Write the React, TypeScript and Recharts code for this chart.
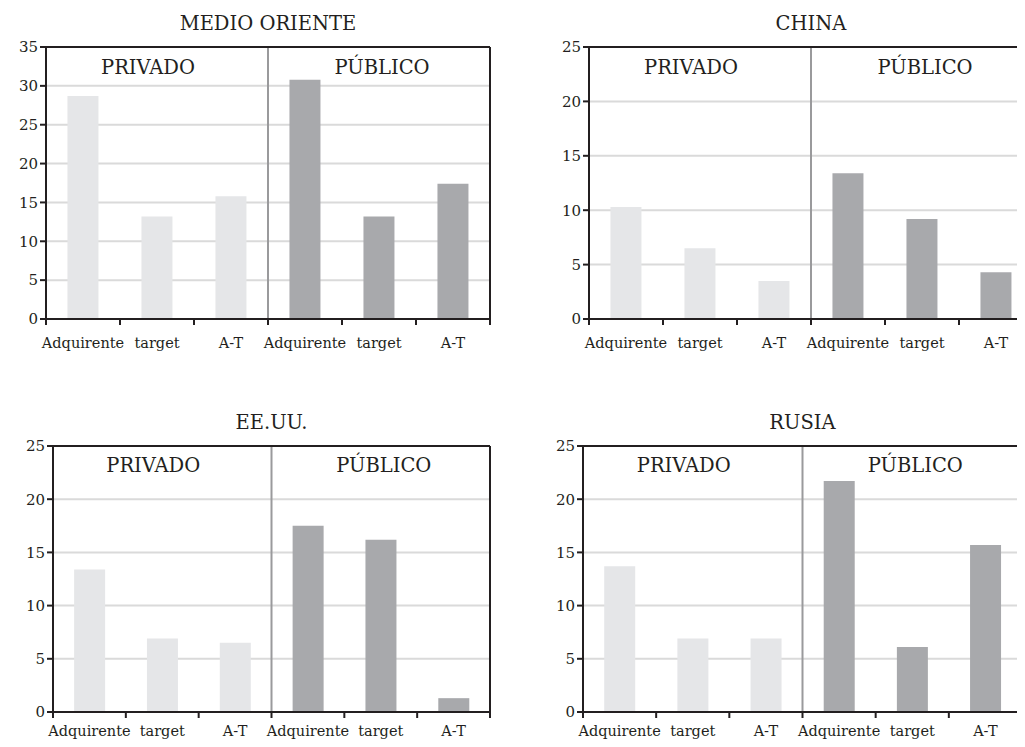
import {
  BarChart,
  Bar,
  Cell,
  XAxis,
  YAxis,
  CartesianGrid,
  ReferenceLine,
  ReferenceArea,
} from "recharts";

const categories = ["Adquirente", "target", "A-T"];
const groups = ["PRIVADO", "PÚBLICO"];

const medioOrientePrivado = [28.7, 13.2, 15.8];
const medioOrientePublico = [30.8, 13.2, 17.4];
const chinaPrivado = [10.3, 6.5, 3.5];
const chinaPublico = [13.4, 9.2, 4.3];
const eeuuPrivado = [13.4, 6.9, 6.5];
const eeuuPublico = [17.5, 16.2, 1.3];
const rusiaPrivado = [13.7, 6.9, 6.9];
const rusiaPublico = [21.7, 6.1, 15.7];

const ticks35 = [0, 5, 10, 15, 20, 25, 30, 35];
const ticks25 = [0, 5, 10, 15, 20, 25];

const FONT = "'DejaVu Serif', serif";
const INK = "#231f20";
const LIGHT = "#e5e6e8";
const DARK = "#a8a9ac";
const GRID = "#dadada";
const SEP = "#9a9a9c";

function buildRows(privado: number[], publico: number[]) {
  return [
    ...privado.map((v, i) => ({ id: `p${i}`, group: 0, value: v })),
    ...publico.map((v, i) => ({ id: `q${i}`, group: 1, value: v })),
  ];
}

// category tick: label at band centre, tick marks on the band edges
function makeTick(band: number, count: number, labelDy: number) {
  return (props: any) => {
    const { x, y, index } = props;
    return (
      <g>
        <line x1={x - band / 2} x2={x - band / 2} y1={y} y2={y + 6} stroke={INK} strokeWidth={2} />
        {index === count - 1 && (
          <line x1={x + band / 2} x2={x + band / 2} y1={y} y2={y + 6} stroke={INK} strokeWidth={2} />
        )}
        <text x={x} y={y + labelDy} textAnchor="middle" fill={INK} fontSize={14.5} fontFamily={FONT}>
          {categories[index % categories.length]}
        </text>
      </g>
    );
  };
}

type PanelProps = {
  title: string;
  privado: number[];
  publico: number[];
  yTicks: number[];
  left: number;
  top: number;
  width: number;
  height: number;
  yWidth: number;
  plotTop: number;
  plotWidth: number;
  xHeight: number;
  labelOffset: number;
  labelDy: number;
};

function Panel(p: PanelProps) {
  const rows = buildRows(p.privado, p.publico);
  const yMax = p.yTicks[p.yTicks.length - 1];
  const rightMargin = p.width - p.yWidth - p.plotWidth;
  const tick = makeTick(p.plotWidth / rows.length, rows.length, p.labelDy);
  return (
    <div style={{ position: "absolute", left: p.left, top: p.top, width: p.width, height: p.height }}>
      <div
        style={{
          position: "absolute",
          left: p.yWidth,
          width: p.plotWidth,
          top: p.plotTop - 33,
          textAlign: "center",
          fontFamily: FONT,
          fontSize: 19.5,
          lineHeight: "20px",
          color: INK,
        }}
      >
        {p.title}
      </div>
      <BarChart
        width={p.width}
        height={p.height}
        data={rows}
        margin={{ top: p.plotTop, right: rightMargin, left: 0, bottom: 0 }}
        barCategoryGap="29%"
        style={{ overflow: "visible" }}
      >
        <CartesianGrid vertical={false} stroke={GRID} strokeWidth={2} />
        <XAxis
          dataKey="id"
          interval={0}
          tickSize={0}
          tickMargin={0}
          tickLine={false}
          axisLine={{ stroke: INK, strokeWidth: 2 }}
          tick={tick}
          height={p.xHeight}
        />
        <YAxis
          domain={[0, yMax]}
          ticks={p.yTicks}
          interval={0}
          width={p.yWidth}
          axisLine={{ stroke: INK, strokeWidth: 2 }}
          tickLine={{ stroke: INK, strokeWidth: 2 }}
          tick={{ fill: INK, fontSize: 15, fontFamily: FONT }}
        />
        <ReferenceArea
          x1="p0"
          x2="p2"
          ifOverflow="visible"
          fillOpacity={0}
          strokeOpacity={0}
          label={{ value: groups[0], position: "insideTop", offset: p.labelOffset, dx: -9, fill: INK, fontSize: 19.5, fontFamily: FONT }}
        />
        <ReferenceArea
          x1="q0"
          x2="q2"
          ifOverflow="visible"
          fillOpacity={0}
          strokeOpacity={0}
          label={{ value: groups[1], position: "insideTop", offset: p.labelOffset, dx: 3, fill: INK, fontSize: 19.5, fontFamily: FONT }}
        />
        <Bar dataKey="value" isAnimationActive={false}>
          {rows.map((r) => (
            <Cell key={r.id} fill={r.group === 0 ? LIGHT : DARK} />
          ))}
        </Bar>
        <ReferenceLine x="q0" position="start" ifOverflow="visible" stroke={SEP} strokeWidth={2} />
        <ReferenceLine y={yMax} ifOverflow="visible" stroke={INK} strokeWidth={2} />
        <ReferenceLine x="q2" position="end" ifOverflow="visible" stroke={INK} strokeWidth={2} />
      </BarChart>
    </div>
  );
}

export default function App() {
  return (
    <div style={{ position: "relative", width: 1025, height: 747, margin: -8, overflow: "hidden", background: "#fff" }}>
      <Panel
        title="MEDIO ORIENTE"
        privado={medioOrientePrivado}
        publico={medioOrientePublico}
        yTicks={ticks35}
        left={0}
        top={0}
        width={512}
        height={370}
        yWidth={46}
        plotTop={47}
        plotWidth={444}
        xHeight={51}
        labelOffset={13}
        labelDy={29}
      />
      <Panel
        title="CHINA"
        privado={chinaPrivado}
        publico={chinaPublico}
        yTicks={ticks25}
        left={512}
        top={0}
        width={530}
        height={370}
        yWidth={77}
        plotTop={47}
        plotWidth={444}
        xHeight={51}
        labelOffset={13}
        labelDy={29}
      />
      <Panel
        title="EE.UU."
        privado={eeuuPrivado}
        publico={eeuuPublico}
        yTicks={ticks25}
        left={0}
        top={400}
        width={512}
        height={347}
        yWidth={53}
        plotTop={46}
        plotWidth={437}
        xHeight={35}
        labelOffset={12}
        labelDy={24}
      />
      <Panel
        title="RUSIA"
        privado={rusiaPrivado}
        publico={rusiaPublico}
        yTicks={ticks25}
        left={512}
        top={400}
        width={513}
        height={347}
        yWidth={71}
        plotTop={46}
        plotWidth={439}
        xHeight={35}
        labelOffset={12}
        labelDy={24}
      />
    </div>
  );
}
